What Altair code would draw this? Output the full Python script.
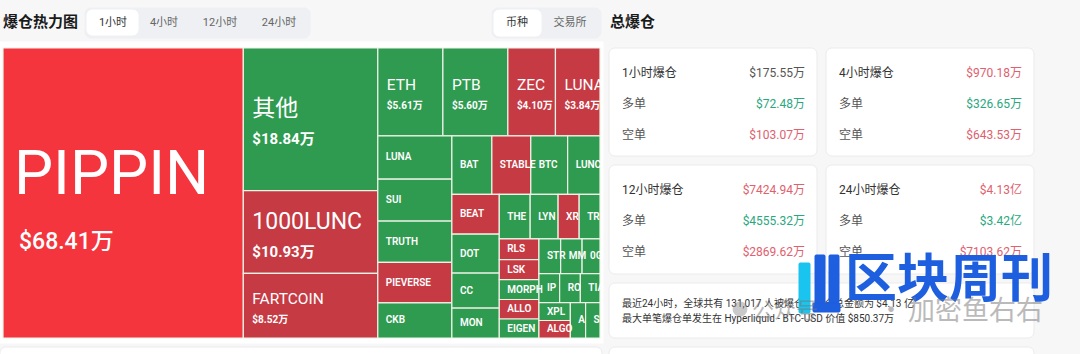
import altair as alt
import pandas as pd

# ---------------- data (1小时爆仓, 单位: 万美元) ----------------
coins = ["PIPPIN", "其他", "1000LUNC", "FARTCOIN", "ETH", "PTB", "ZEC", "LUNA2",
         "LUNA", "SUI", "TRUTH", "PIEVERSE", "CKB", "BAT", "STABLE", "BTC", "LUNC",
         "BEAT", "DOT", "CC", "MON", "THE", "LYN", "XRP", "TRX", "RLS", "LSK",
         "MORPHO", "ALLO", "EIGEN", "STRK", "MM", "0G", "IP", "RONIN", "TIA", "XPL",
         "ALGO", "APR", "SAPIEN"]
amounts = [68.41, 18.84, 10.93, 8.52, 5.61, 5.60, 4.10, 3.84,
           3.15, 3.05, 3.00, 2.95, 2.55, 2.30, 2.24, 2.12, 1.86,
           1.85, 1.81, 1.63, 1.39, 1.35, 1.22, 0.92, 0.91, 0.81, 0.78,
           0.77, 0.76, 0.74, 0.74, 0.73, 0.61, 0.59, 0.59, 0.56, 0.55,
           0.54, 0.53, 0.50]
tones = ["hot", "green", "red", "red", "green", "green", "red", "red",
         "green", "green", "green", "red", "green", "green", "red", "green", "green",
         "red", "green", "green", "green", "green", "green", "red", "green", "red", "red",
         "green", "red", "green", "green", "green", "green", "green", "green", "green", "green",
         "red", "green", "green"]

periods = ["1小时爆仓", "4小时爆仓", "12小时爆仓", "24小时爆仓"]
totals = ["$175.55万", "$970.18万", "$7424.94万", "$4.13亿"]
longs = ["$72.48万", "$326.65万", "$4555.32万", "$3.42亿"]
shorts = ["$103.07万", "$643.53万", "$2869.62万", "$7103.62万"]
total_tones = ["neutral", "red", "red", "red"]

time_tabs = ["1小时", "4小时", "12小时", "24小时"]
view_tabs = ["币种", "交易所"]
summary_lines = ["最近24小时，全球共有 131,017 人被爆仓，爆仓总金额为 $4.13 亿",
                 "最大单笔爆仓单发生在 Hyperliquid - BTC-USD 价值 $850.37万"]

# ---------------- styles ----------------
W, H = 1080, 354
FONT = "Roboto, 'Noto Sans CJK SC', sans-serif"
CJK = "'Noto Sans CJK SC', sans-serif"
TONE = {"hot": "#f4353d", "red": "#c63a43", "green": "#2f9b50"}
CARD_TONE = {"neutral": "#555555", "red": "#e0606e", "green": "#2aa77e"}
TM = (3, 48, 600, 338)  # treemap box

xs = alt.Scale(domain=[0, W], range=[0, W], nice=False, zero=False)
ys = alt.Scale(domain=[0, H], range=[0, H], nice=False, zero=False)


def squarify(values, x0, y0, x1, y1, ratio=(1 + 5 ** 0.5) / 2):
    """d3-style squarified treemap layout (values sorted descending)."""
    rects = [None] * len(values)
    total = float(sum(values))
    n, i0 = len(values), 0
    while i0 < n:
        dx, dy = x1 - x0, y1 - y0
        i1 = i0
        s = values[i1]
        i1 += 1
        mn = mx = s
        alpha = max(dy / dx, dx / dy) / (total * ratio)
        beta = s * s * alpha
        best = max(mx / beta, beta / mn)
        while i1 < n:
            v = values[i1]
            s2, mn2, mx2 = s + v, min(mn, v), max(mx, v)
            beta = s2 * s2 * alpha
            r = max(mx2 / beta, beta / mn2)
            if r > best:
                break
            s, mn, mx, best = s2, mn2, mx2, r
            i1 += 1
        if dx < dy:
            yb = y0 + dy * s / total
            xx = x0
            for i in range(i0, i1):
                w = (x1 - x0) * values[i] / s
                rects[i] = (xx, y0, xx + w, yb)
                xx += w
            y0 = yb
        else:
            xb = x0 + dx * s / total
            yy = y0
            for i in range(i0, i1):
                h = (y1 - y0) * values[i] / s
                rects[i] = (x0, yy, xb, yy + h)
                yy += h
            x0 = xb
        total -= s
        i0 = i1
    return rects


cells = squarify(amounts, *TM)


def tier(v):
    return "huge" if v >= 30 else "large" if v >= 10 else "mid" if v >= 3.5 else "small"


tm = pd.DataFrame({
    "coin": coins,
    "amount": amounts,
    "tone": tones,
    "x0": [c[0] for c in cells], "y0": [c[1] for c in cells],
    "x1": [c[2] for c in cells], "y1": [c[3] for c in cells],
})
tm["cy"] = (tm["y0"] + tm["y1"]) / 2
tm["label"] = [f"${v:.2f}万" for v in amounts]
tm["tier"] = [tier(v) for v in amounts]

XE = alt.X("x0:Q", scale=xs, axis=None)
YE = alt.Y("y0:Q", scale=ys, axis=None)

tm_rect = alt.Chart(tm).mark_rect(stroke="#eef3e8", strokeWidth=1.2).encode(
    x=XE, x2="x1:Q", y=YE, y2="y1:Q",
    color=alt.Color("tone:N", scale=alt.Scale(domain=list(TONE), range=list(TONE.values())), legend=None),
)


def tm_text(t, field, size, weight, dx, dy, limit=False):
    kw = dict(align="left", baseline="middle", font=FONT, fontSize=size, fontWeight=weight,
              dx=dx, dy=dy, color="white")
    if limit:
        kw["limit"] = {"expr": f"datum.x1 - datum.x0 - {dx} + 5"}
        kw["ellipsis"] = "\u200b"
    return alt.Chart(tm).transform_filter(alt.datum.tier == t).mark_text(**kw).encode(
        x=XE, y=alt.Y("cy:Q", scale=ys, axis=None), text=f"{field}:N")


tm_texts = [
    tm_text("huge", "coin", 62, 400, 11, -18),
    tm_text("huge", "label", 23, 500, 16, 49),
    tm_text("large", "coin", 23, 400, 9, -10),
    tm_text("large", "label", 15, 700, 9, 20),
    tm_text("mid", "coin", 15.5, 400, 9, -7, limit=True),
    tm_text("mid", "label", 10, 700, 9, 14, limit=True),
    tm_text("small", "coin", 10, 600, 8, 0, limit=True),
]

# ---------------- panels / controls ----------------
boxes6 = pd.DataFrame([
    (85, 8, 310, 38, "#eef0f3", "#eef0f3"),
    (492, 8, 601, 38, "#eef0f3", "#eef0f3"),
    (609, 48, 817, 156, "#ffffff", "#ebebeb"),
    (826, 48, 1034, 156, "#ffffff", "#ebebeb"),
    (609, 165, 817, 274, "#ffffff", "#ebebeb"),
    (826, 165, 1034, 274, "#ffffff", "#ebebeb"),
    (609, 283, 1034, 338, "#ffffff", "#ebebeb"),
    (609, 347, 1034, 372, "#ffffff", "#ebebeb"),
    (0, 347, 602, 372, "#ffffff", "#ebebeb"),
], columns=["x0", "y0", "x1", "y1", "fill", "stroke"])
pills = pd.DataFrame([
    (87, 10, 138, 35, "#ffffff", "#ffffff"),
    (494, 10, 541, 36, "#ffffff", "#ffffff"),
], columns=["x0", "y0", "x1", "y1", "fill", "stroke"])
plain = pd.DataFrame([
    (0, 42, 603, 343, "#ffffff", "#ffffff"),
], columns=["x0", "y0", "x1", "y1", "fill", "stroke"])
logo = pd.DataFrame([
    (799, 263, 810, 313, "#19c4ee", "#19c4ee"),
    (815, 255, 825, 303, "#1d5fdf", "#1d5fdf"),
    (829, 255, 839, 303, "#1d5fdf", "#1d5fdf"),
    (813, 303, 840, 312, "#1d5fdf", "#1d5fdf"),
], columns=["x0", "y0", "x1", "y1", "fill", "stroke"])


def box_layer(df, radius, opacity=1.0):
    return alt.Chart(df).mark_rect(cornerRadius=radius, strokeWidth=1, opacity=opacity).encode(
        x=XE, x2="x1:Q", y=YE, y2="y1:Q",
        fill=alt.Fill("fill:N", scale=None, legend=None),
        stroke=alt.Stroke("stroke:N", scale=None, legend=None),
    )


def text_layer(rows, align="left", weight=400, font=FONT, opacity=1.0):
    df = pd.DataFrame(rows, columns=["x", "y", "t", "s", "c"])
    return alt.Chart(df).mark_text(align=align, baseline="middle", font=font,
                                   fontWeight=weight, opacity=opacity).encode(
        x=alt.X("x:Q", scale=xs, axis=None),
        y=alt.Y("y:Q", scale=ys, axis=None),
        text="t:N",
        size=alt.Size("s:Q", scale=None, legend=None),
        color=alt.Color("c:N", scale=None, legend=None),
    )


titles = text_layer([(3, 22, "爆仓热力图", 15, "#1a1a1a"), (610, 22, "总爆仓", 15, "#1a1a1a")],
                    weight=700, font=CJK)

tab_x = [113, 164, 220, 279]
view_x = [517, 570]
tabs = text_layer(
    [(x, 23, t, 11, "#333333" if i == 0 else "#666666") for i, (x, t) in enumerate(zip(tab_x, time_tabs))]
    + [(x, 23, t, 11, "#333333" if i == 0 else "#666666") for i, (x, t) in enumerate(zip(view_x, view_tabs))],
    align="center", font=FONT)

card_pos = [(609, 48), (826, 48), (609, 165), (826, 165)]
lab_rows, val_rows = [], []
for (cx, cy), p, tot, lo, sh, tt in zip(card_pos, periods, totals, longs, shorts, total_tones):
    lab_rows += [(cx + 13, cy + 25, p, 12, "#333333"),
                 (cx + 13, cy + 56, "多单", 12, "#555555"),
                 (cx + 13, cy + 87, "空单", 12, "#555555")]
    val_rows += [(cx + 196, cy + 25, tot, 12, CARD_TONE[tt]),
                 (cx + 196, cy + 56, lo, 12, CARD_TONE["green"]),
                 (cx + 196, cy + 87, sh, 12, CARD_TONE["red"])]
card_labels = text_layer(lab_rows, font=FONT)
card_values = text_layer(val_rows, align="right", font=FONT)
summary = text_layer([(622, 304, summary_lines[0], 10, "#333333"),
                      (622, 319, summary_lines[1], 10, "#333333")], font=FONT)

# ---------------- watermark ----------------
wm_blue = text_layer([(845, 281, "区块周刊", 52, "#1d5fdf")], weight=700, font=CJK)
wm_gray_r = text_layer([(1043, 312, "加密鱼右右", 27, "#777777")], align="right", font=CJK, opacity=0.5)
wm_gray_l = text_layer([(752, 311, "公众号", 22, "#777777"), (878, 311, "·", 26, "#777777")],
                       font=CJK, opacity=0.5)
icon = alt.Chart(pd.DataFrame({"x": [740], "y": [309]})).mark_circle(size=220, color="#888888", opacity=0.45).encode(
    x=alt.X("x:Q", scale=xs, axis=None), y=alt.Y("y:Q", scale=ys, axis=None))

chart = alt.layer(
    box_layer(plain, 0), box_layer(boxes6, 6), box_layer(pills, 5),
    tm_rect, *tm_texts,
    titles, tabs, card_labels, card_values, summary,
    box_layer(logo, 1), wm_blue, icon, wm_gray_l, wm_gray_r,
).properties(
    width=W, height=H, padding=0, autosize="none", background="#f7f7f8"
).configure_view(stroke=None)

chart.save("out.html", embed_options={"renderer": "svg", "actions": False})
